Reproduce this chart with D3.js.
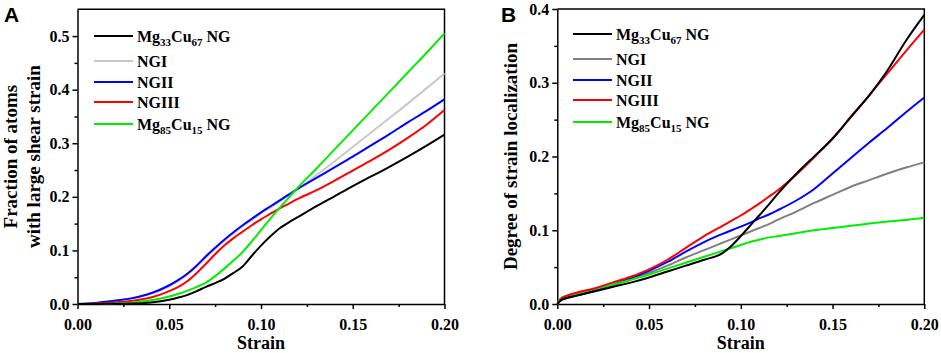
<!DOCTYPE html>
<html>
<head>
<meta charset="utf-8">
<script src="https://cdn.jsdelivr.net/npm/d3@7"></script>
<style>
  body { margin: 0; background: #fff; }
  svg text { font-family: "Liberation Serif", "Times New Roman", serif; font-weight: bold; fill: #000; }
  .axis path, .axis line { stroke: #000; stroke-width: 1.5px; }
  .panel-label { font-family: "Liberation Sans", Arial, sans-serif !important; font-size: 21px; }
</style>
</head>
<body>
<div id="chart"></div>
<script>
// ---- data ----
const seriesNames = ["Mg33Cu67 NG", "NGI", "NGII", "NGIII", "Mg85Cu15 NG"];

// Panel A: fraction of atoms with large shear strain
const strainA = [0, 0.01, 0.02, 0.03, 0.04, 0.05, 0.055, 0.06, 0.065, 0.07, 0.075, 0.08, 0.085, 0.09,
  0.095, 0.10, 0.105, 0.11, 0.115, 0.12, 0.13, 0.14, 0.15, 0.16, 0.17, 0.18, 0.19, 0.20];
const mg33A = [0, 0, 0.0005, 0.001, 0.003, 0.008, 0.012, 0.017, 0.024, 0.032, 0.039, 0.047, 0.058, 0.07,
  0.09, 0.109, 0.126, 0.141, 0.152, 0.162, 0.182, 0.201, 0.22, 0.238, 0.256, 0.275, 0.295, 0.316];
const ngIA = [0, 0.002, 0.006, 0.011, 0.019, 0.033, 0.043, 0.055, 0.07, 0.087, 0.103, 0.118, 0.132, 0.145,
  0.157, 0.169, 0.18, 0.191, 0.203, 0.214, 0.24, 0.266, 0.293, 0.32, 0.347, 0.374, 0.402, 0.43];
const ngIIA = [0, 0.002, 0.006, 0.011, 0.02, 0.035, 0.045, 0.057, 0.072, 0.089, 0.105, 0.12, 0.134, 0.147,
  0.159, 0.171, 0.182, 0.193, 0.204, 0.215, 0.235, 0.255, 0.275, 0.296, 0.317, 0.339, 0.36, 0.382];
const ngIIIA = [0, 0.001, 0.003, 0.006, 0.012, 0.024, 0.032, 0.043, 0.058, 0.075, 0.093, 0.109, 0.123, 0.135,
  0.147, 0.158, 0.168, 0.178, 0.187, 0.196, 0.212, 0.23, 0.249, 0.268, 0.288, 0.31, 0.334, 0.362];
const mg85A = [0, 0, 0.001, 0.003, 0.007, 0.014, 0.019, 0.025, 0.032, 0.04, 0.052, 0.066, 0.081, 0.097,
  0.117, 0.138, 0.159, 0.179, 0.198, 0.217, 0.252, 0.288, 0.324, 0.36, 0.396, 0.432, 0.468, 0.505];

// Panel B: degree of strain localization
const strainB = [0, 0.002, 0.005, 0.01, 0.02, 0.03, 0.04, 0.05, 0.06, 0.07, 0.08, 0.09, 0.095, 0.10,
  0.105, 0.11, 0.115, 0.12, 0.13, 0.14, 0.15, 0.16, 0.17, 0.18, 0.19, 0.20];
const mg33B = [0, 0.005, 0.008, 0.011, 0.017, 0.023, 0.029, 0.036, 0.044, 0.052, 0.06, 0.069, 0.079, 0.092,
  0.106, 0.12, 0.134, 0.149, 0.176, 0.2, 0.224, 0.254, 0.283, 0.317, 0.357, 0.392];
const ngIB = [0, 0.005, 0.008, 0.012, 0.018, 0.025, 0.033, 0.042, 0.052, 0.063, 0.073, 0.083, 0.088, 0.093,
  0.098, 0.103, 0.108, 0.114, 0.125, 0.137, 0.148, 0.159, 0.168, 0.177, 0.185, 0.192];
const ngIIB = [0, 0.005, 0.008, 0.011, 0.018, 0.026, 0.035, 0.045, 0.057, 0.071, 0.084, 0.095, 0.1, 0.105,
  0.11, 0.116, 0.121, 0.127, 0.14, 0.156, 0.177, 0.198, 0.219, 0.239, 0.26, 0.28];
const ngIIIB = [0, 0.007, 0.011, 0.015, 0.021, 0.029, 0.037, 0.047, 0.06, 0.076, 0.092, 0.106, 0.113, 0.12,
  0.128, 0.136, 0.145, 0.154, 0.175, 0.199, 0.225, 0.253, 0.283, 0.313, 0.343, 0.372];
const mg85B = [0, 0.008, 0.011, 0.014, 0.02, 0.026, 0.033, 0.04, 0.048, 0.056, 0.064, 0.072, 0.076, 0.08,
  0.084, 0.087, 0.09, 0.092, 0.096, 0.1, 0.103, 0.106, 0.109, 0.112, 0.114, 0.117];

const xTicks = [0, 0.05, 0.10, 0.15, 0.20];
const yTicksA = [0, 0.1, 0.2, 0.3, 0.4, 0.5];
const yTicksB = [0, 0.1, 0.2, 0.3, 0.4];

const width = 941, height = 353;

const svg = d3.select("#chart").append("svg")
    .attr("width", width)
    .attr("height", height);

function drawPanel(cfg) {
    const x = d3.scaleLinear().domain([0, 0.2]).range([cfg.left, cfg.right]);
    const y = d3.scaleLinear().domain([0, cfg.yMax]).range([cfg.bottom, cfg.top]);
    const g = svg.append("g");

    // minor ticks
    const xMinor = d3.range(0.025, 0.2, 0.05);
    const yMinor = d3.range(0.05, cfg.yMax, 0.1);
    g.append("g").attr("class", "axis")
        .attr("transform", `translate(0,${cfg.bottom})`)
        .call(d3.axisBottom(x).tickValues(xMinor).tickSize(3).tickFormat(""))
        .select(".domain").remove();
    g.append("g").attr("class", "axis")
        .attr("transform", `translate(${cfg.left},0)`)
        .call(d3.axisLeft(y).tickValues(yMinor).tickSize(3).tickFormat(""))
        .select(".domain").remove();

    // major axes
    const xAxis = g.append("g").attr("class", "axis")
        .attr("transform", `translate(0,${cfg.bottom})`)
        .call(d3.axisBottom(x).tickValues(xTicks).tickSize(5).tickSizeOuter(0).tickFormat(d3.format(".2f")));
    xAxis.selectAll("text").style("font-size", "16px").attr("dy", "1.1em");

    const yAxis = g.append("g").attr("class", "axis")
        .attr("transform", `translate(${cfg.left},0)`)
        .call(d3.axisLeft(y).tickValues(cfg.yTicks).tickSize(5).tickSizeOuter(0).tickFormat(d3.format(".1f")));
    yAxis.selectAll("text").style("font-size", "16px").attr("x", -8);

    // frame top / right
    g.append("path")
        .attr("d", `M${cfg.left},${cfg.top}H${cfg.right}V${cfg.bottom}`)
        .attr("fill", "none").attr("stroke", "#000").attr("stroke-width", 1.5);

    // lines
    const line = d3.line()
        .x((d, i) => x(cfg.strain[i]))
        .y(d => y(d))
        .curve(d3.curveMonotoneX);

    cfg.order.forEach(k => {
        g.append("path")
            .datum(cfg.series[k])
            .attr("fill", "none")
            .attr("stroke", cfg.colors[k])
            .attr("stroke-width", 2)
            .attr("d", line);
    });

    // axis titles
    g.append("text")
        .attr("x", (cfg.left + cfg.right) / 2)
        .attr("y", 349)
        .attr("text-anchor", "middle")
        .style("font-size", "18px")
        .text("Strain");

    const cy = (cfg.top + cfg.bottom) / 2;
    cfg.yTitle.forEach((t, i) => {
        g.append("text")
            .attr("transform", `translate(${cfg.yTitleX[i]},${cy}) rotate(-90)`)
            .attr("text-anchor", "middle")
            .style("font-size", "19px")
            .text(t);
    });

    // panel label
    g.append("text")
        .attr("class", "panel-label")
        .attr("x", cfg.labelX)
        .attr("y", 22)
        .text(cfg.label);

    // legend
    const rowY = [0, 25, 46, 66, 88];
    const legend = g.append("g").attr("transform", `translate(${cfg.legendX},${cfg.legendY})`);
    seriesNames.forEach((name, i) => {
        const row = legend.append("g").attr("transform", `translate(0,${rowY[i]})`);
        row.append("line")
            .attr("x1", 0).attr("x2", 39)
            .attr("stroke", cfg.colors[i]).attr("stroke-width", 2);
        const txt = row.append("text").attr("x", 43).attr("y", 6).style("font-size", "16px");
        const m = name.match(/^Mg(\d+)Cu(\d+) NG$/);
        if (m) {
            txt.append("tspan").text("Mg");
            txt.append("tspan").attr("dy", 4).style("font-size", "11px").text(m[1]);
            txt.append("tspan").attr("dy", -4).text("Cu");
            txt.append("tspan").attr("dy", 4).style("font-size", "11px").text(m[2]);
            txt.append("tspan").attr("dy", -4).text("\u00a0NG");
        } else {
            txt.text(name);
        }
    });
}

drawPanel({
    left: 77.5, right: 444.5, top: 9.3, bottom: 304,
    yMax: 0.55, yTicks: yTicksA,
    strain: strainA,
    series: [mg33A, ngIA, ngIIA, ngIIIA, mg85A],
    colors: ["#000000", "#c8c8c8", "#0000ff", "#ff0000", "#00ee00"],
    order: [1, 2, 3, 4, 0],
    yTitle: ["Fraction of atoms", "with large shear strain"],
    yTitleX: [17, 40],
    label: "A", labelX: 4,
    legendX: 94, legendY: 36
});

drawPanel({
    left: 557.3, right: 924.3, top: 9, bottom: 304,
    yMax: 0.4, yTicks: yTicksB,
    strain: strainB,
    series: [mg33B, ngIB, ngIIB, ngIIIB, mg85B],
    colors: ["#000000", "#808080", "#0000ff", "#ff0000", "#00ee00"],
    order: [1, 2, 4, 3, 0],
    yTitle: ["Degree of strain localization"],
    yTitleX: [517],
    label: "B", labelX: 501,
    legendX: 573, legendY: 34
});
</script>
</body>
</html>
